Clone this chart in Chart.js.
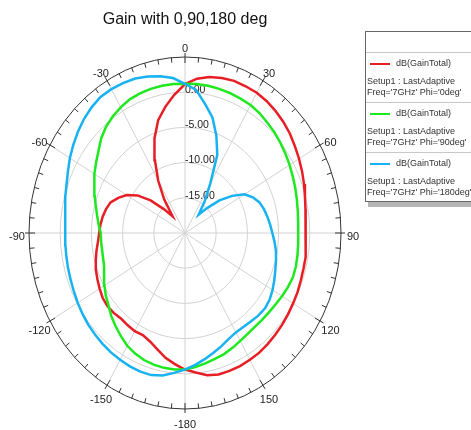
<!DOCTYPE html>
<html>
<head>
<meta charset="utf-8">
<script src="https://cdn.jsdelivr.net/npm/chart.js@4.4.1/dist/chart.umd.min.js"></script>
<style>
    body { margin: 0; background: #fff; overflow: hidden; }
    .wrap { position: relative; width: 471px; height: 430px; overflow: hidden; }
    #legend {
        position: absolute; left: 365px; top: 31px; width: 130px;
        border: 1px solid #666; background: #fff;
        box-shadow: 3px 5px 0 #b5b5b5;
        font: 9px "Liberation Sans", Arial, sans-serif; color: #333;
    }
    #legend .head { height: 20px; border-bottom: 1px solid #c8c8c8; }
    #legend .item { border-bottom: 1px solid #c8c8c8; padding-top: 3px; box-sizing: border-box; height: 50px; }
    #legend .item:last-child { border-bottom: none; height: 48px; }
    #legend .row1 { line-height: 14px; padding-left: 4px; white-space: nowrap; }
    #legend .row1 span { display: inline-block; width: 20px; height: 2px; vertical-align: middle; margin-right: 6px; }
    #legend .row2 { line-height: 11px; margin-top: 6px; padding-left: 1px; white-space: nowrap; }
    #legend .row3 { line-height: 11px; padding-left: 1px; white-space: nowrap; }
</style>
</head>
<body>
<div class="wrap">
    <canvas id="gainChart" width="471" height="430"></canvas>
    <div id="legend"><div class="head"></div></div>
</div>
<script>
// theta in degrees, gain in dB
const angleDeg = [
    -180, -175, -170, -165, -160, -155, -150, -145, -140, -135, -130, -125,
    -120, -115, -110, -105, -100, -95, -90, -85, -80, -75, -70, -65,
    -60, -55, -50, -45, -40, -35, -30, -25, -20, -15, -10, -5,
    0, 5, 10, 15, 20, 25, 30, 35, 40, 45, 50, 55,
    60, 65, 70, 75, 80, 85, 90, 95, 100, 105, 110, 115,
    120, 125, 130, 135, 140, 145, 150, 155, 160, 165, 170, 175, 180
];

const gainPhi0 = [
    -0.6, -1.3, -2.0, -2.9, -3.6, -4.0, -3.9, -4.0, -4.1, -3.9, -3.8, -3.9,
    -4.2, -4.5, -4.8, -5.2, -5.6, -6.0, -6.25, -6.4, -6.6, -6.9, -7.3, -8.2,
    -9.2, -10.7, -12.8, -15.2, -16.9, -14.2, -11.4, -8.6, -5.7, -3.4, -1.8, -0.3,
    1.15, 2.0, 2.5, 2.8, 3.0, 3.0, 3.0, 2.85, 2.6, 2.3, 1.95, 1.5,
    1.1, 0.7, 0.3, -0.1, -0.4, -0.55, -0.65, -0.55, -0.45, -0.35, -0.25, -0.1,
    0.0, 0.15, 0.3, 0.45, 0.6, 0.75, 0.8, 0.85, 0.85, 0.8, 0.5, -0.1, -0.6
];

const gainPhi90 = [
    -0.6, -0.55, -0.55, -0.65, -0.8, -1.1, -1.5, -2.1, -2.7, -3.3, -4.0, -4.5,
    -5.1, -5.7, -6.2, -6.4, -6.5, -6.5, -6.5, -6.1, -5.7, -5.2, -4.6, -4.0,
    -3.2, -2.6, -1.9, -1.0, -0.3, 0.2, 0.6, 0.95, 1.1, 1.2, 1.25, 1.25,
    1.2, 1.25, 1.25, 1.2, 1.15, 1.05, 1.0, 0.8, 0.5, 0.25, -0.05, -0.35,
    -0.65, -0.95, -1.2, -1.45, -1.65, -1.8, -1.85, -1.8, -1.7, -1.6, -1.6, -1.8,
    -2.05, -2.3, -2.45, -2.55, -2.6, -2.5, -2.3, -2.0, -1.7, -1.5, -1.2, -0.9, -0.6
];

const gainPhi180 = [
    -0.6, -0.05, 0.55, 0.9, 0.95, 0.9, 0.8, 0.7, 0.55, 0.4, 0.25, 0.05,
    -0.15, -0.35, -0.5, -0.6, -0.7, -0.75, -0.8, -0.7, -0.5, -0.2, 0.2, 0.7,
    1.3, 1.85, 2.4, 2.9, 3.3, 3.6, 3.6, 3.5, 3.35, 3.0, 2.6, 2.1,
    1.2, 0.4, -1.4, -3.0, -5.3, -7.75, -11.9, -14.5, -16.6, -15.0, -12.8, -10.8,
    -9.0, -8.0, -7.3, -6.9, -6.6, -6.3, -6.0, -5.6, -5.2, -4.9, -4.6, -4.2,
    -3.8, -3.45, -3.3, -3.4, -3.6, -3.7, -3.7, -3.4, -2.9, -2.4, -1.8, -1.2, -0.6
];

const radialTicks = [-15, -10, -5, 0];
const angleTicks = [-150, -120, -90, -60, -30, 0, 30, 60, 90, 120, 150, 180];
const angleTickLabels = ['-150', '-120', '-90', '-60', '-30', '0', '30', '60', '90', '120', '150', '-180'];
const seriesPhi = ['0deg', '90deg', '180deg'];
const seriesColors = ['#e81e25', '#1ee81e', '#18b2f2'];

const rMin = -20;
const rMax = 5;

document.addEventListener('DOMContentLoaded', function () {
    // polar (theta, dB) -> cartesian, radius measured from rMin
    function toXY(gains) {
        return angleDeg.map((a, i) => {
            const r = gains[i] - rMin;
            const t = a * Math.PI / 180;
            return { x: r * Math.sin(t), y: r * Math.cos(t) };
        });
    }

    const polarGrid = {
        id: 'polarGrid',
        beforeDatasetsDraw(chart) {
            const { ctx, scales: { x, y } } = chart;
            const cx = x.getPixelForValue(0);
            const cy = y.getPixelForValue(0);
            const kx = x.getPixelForValue(1) - cx;
            const ky = cy - y.getPixelForValue(1);
            const R = rMax - rMin;

            ctx.save();
            ctx.lineWidth = 1;

            // inner rings
            ctx.strokeStyle = '#d2d2d2';
            radialTicks.forEach(v => {
                ctx.beginPath();
                ctx.ellipse(cx, cy, (v - rMin) * kx, (v - rMin) * ky, 0, 0, Math.PI * 2);
                ctx.stroke();
            });

            // spokes
            angleTicks.forEach(a => {
                const t = a * Math.PI / 180;
                ctx.beginPath();
                ctx.moveTo(cx, cy);
                ctx.lineTo(cx + R * kx * Math.sin(t), cy - R * ky * Math.cos(t));
                ctx.stroke();
            });

            // outer ring
            ctx.strokeStyle = '#333';
            ctx.beginPath();
            ctx.ellipse(cx, cy, R * kx, R * ky, 0, 0, Math.PI * 2);
            ctx.stroke();

            // tick marks every 5 deg
            for (let a = -180; a < 180; a += 5) {
                const t = a * Math.PI / 180;
                const s = Math.sin(t), c = Math.cos(t);
                const px = cx + R * kx * s, py = cy - R * ky * c;
                const inner = a % 30 === 0 ? 6 : 5;
                const outer = a % 30 === 0 ? 4 : 0;
                ctx.beginPath();
                ctx.moveTo(px - inner * s, py + inner * c);
                ctx.lineTo(px + outer * s, py - outer * c);
                ctx.stroke();
            }

            // radial labels
            ctx.fillStyle = '#222';
            ctx.font = '10.5px "Liberation Sans", Arial, sans-serif';
            ctx.textAlign = 'left';
            ctx.textBaseline = 'middle';
            radialTicks.forEach(v => {
                ctx.fillText(v.toFixed(2), cx, cy - (v - rMin) * ky - 2);
            });

            // angle labels
            ctx.fillStyle = '#222';
            ctx.font = '11px "Liberation Sans", Arial, sans-serif';
            ctx.textAlign = 'center';
            angleTicks.forEach((a, i) => {
                const t = a * Math.PI / 180;
                const lx = cx + (R * kx + 12) * Math.sin(t);
                const ly = cy + 4 - (R * ky + 12) * Math.cos(t);
                ctx.fillText(angleTickLabels[i], lx, ly);
            });
            ctx.restore();
        },
        afterDraw(chart) {
            const { ctx, chartArea } = chart;
            ctx.save();
            ctx.fillStyle = '#111';
            ctx.font = '16px "Liberation Sans", Arial, sans-serif';
            ctx.textAlign = 'center';
            ctx.textBaseline = 'middle';
            ctx.fillText('Gain with 0,90,180 deg', (chartArea.left + chartArea.right) / 2, 20);
            ctx.restore();
        }
    };

    const ctx = document.getElementById('gainChart').getContext('2d');
    const gains = [gainPhi0, gainPhi90, gainPhi180];

    const gainChart = new Chart(ctx, {
        type: 'scatter',
        data: {
            datasets: gains.map((g, i) => ({
                label: "dB(GainTotal) Phi='" + seriesPhi[i] + "'",
                data: toXY(g),
                showLine: true,
                borderColor: seriesColors[i],
                borderWidth: 2.5,
                pointRadius: 0,
                fill: false,
                order: 3 - i
            }))
        },
        options: {
            responsive: false,
            animation: false,
            devicePixelRatio: 1,
            layout: { padding: { left: 29, right: 130, top: 57, bottom: 21 } },
            scales: {
                x: { type: 'linear', min: rMin - rMax, max: rMax - rMin, display: false },
                y: { type: 'linear', min: rMin - rMax, max: rMax - rMin, display: false }
            },
            plugins: {
                legend: { display: false },
                tooltip: { enabled: false }
            }
        },
        plugins: [polarGrid]
    });

    // HFSS style legend box
    const legend = document.getElementById('legend');
    seriesPhi.forEach((phi, i) => {
        const item = document.createElement('div');
        item.className = 'item';
        item.innerHTML =
            '<div class="row1"><span style="background:' + seriesColors[i] + '"></span>dB(GainTotal)</div>' +
            '<div class="row2">Setup1 : LastAdaptive</div>' +
            "<div class=\"row3\">Freq='7GHz' Phi='" + phi + "'</div>";
        legend.appendChild(item);
    });
});
</script>
</body>
</html>
